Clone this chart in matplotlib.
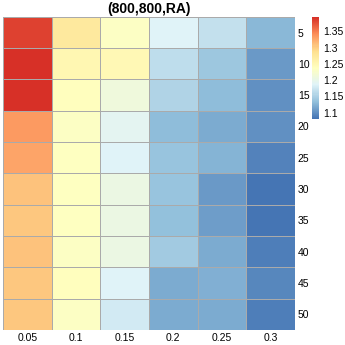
import numpy as np
import matplotlib.pyplot as plt
from matplotlib.colors import LinearSegmentedColormap

plt.rcParams['font.family'] = ['Liberation Sans', 'DejaVu Sans']

# -------------------------------
# Data
# -------------------------------
col_labels = ["0.05", "0.1", "0.15", "0.2", "0.25", "0.3"]
row_labels = ["5", "10", "15", "20", "25", "30", "35", "40", "45", "50"]

row_5 = [1.385, 1.275, 1.234, 1.187, 1.168, 1.128]
row_10 = [1.395, 1.253, 1.247, 1.162, 1.143, 1.108]
row_15 = [1.392, 1.238, 1.212, 1.155, 1.132, 1.099]
row_20 = [1.335, 1.232, 1.193, 1.131, 1.118, 1.099]
row_25 = [1.326, 1.237, 1.185, 1.137, 1.126, 1.090]
row_30 = [1.307, 1.236, 1.203, 1.137, 1.108, 1.080]
row_35 = [1.306, 1.235, 1.204, 1.134, 1.110, 1.081]
row_40 = [1.307, 1.232, 1.206, 1.145, 1.118, 1.088]
row_45 = [1.306, 1.238, 1.186, 1.118, 1.124, 1.094]
row_50 = [1.306, 1.233, 1.175, 1.120, 1.120, 1.089]

values = np.array([row_5, row_10, row_15, row_20, row_25,
                   row_30, row_35, row_40, row_45, row_50])

cbar_ticks = [1.1, 1.15, 1.2, 1.25, 1.3, 1.35]

# pheatmap-style palette (reversed RdYlBu, 7 colours)
palette = ["#4575B4", "#91BFDB", "#E0F3F8", "#FFFFBF", "#FEE090", "#FC8D59", "#D73027"]
cmap = LinearSegmentedColormap.from_list("rdylbu_r", palette, N=100)

# -------------------------------
# Plot
# -------------------------------
fig = plt.figure(figsize=(3.45, 3.45), dpi=100)
ax = fig.add_axes([0.009, 0.044, 0.846, 0.907])

mesh = ax.pcolormesh(values, cmap=cmap, vmin=1.08, vmax=1.395,
                     edgecolors="#AAAAAA", linewidth=0.5)
ax.set_xlim(0, values.shape[1])
ax.set_ylim(values.shape[0], 0)

ax.set_xticks(np.arange(len(col_labels)) + 0.5)
ax.set_xticklabels(col_labels, fontsize=7.5)
ax.set_yticks(np.arange(len(row_labels)) + 0.5)
ax.set_yticklabels(row_labels, fontsize=7.5)
ax.yaxis.tick_right()
ax.tick_params(length=0, pad=2)
for s in ax.spines.values():
    s.set_visible(False)

ax.set_title("(800,800,RA)", fontsize=10, fontweight="bold", pad=3)

cax = fig.add_axes([0.904, 0.655, 0.021, 0.296])
cb = fig.colorbar(mesh, cax=cax, ticks=cbar_ticks)
cb.ax.set_yticklabels([f"{t:g}" for t in cbar_ticks], fontsize=7.5)
cb.ax.tick_params(length=0, pad=3)
cb.outline.set_visible(False)

fig.savefig("out.png", dpi=100)
